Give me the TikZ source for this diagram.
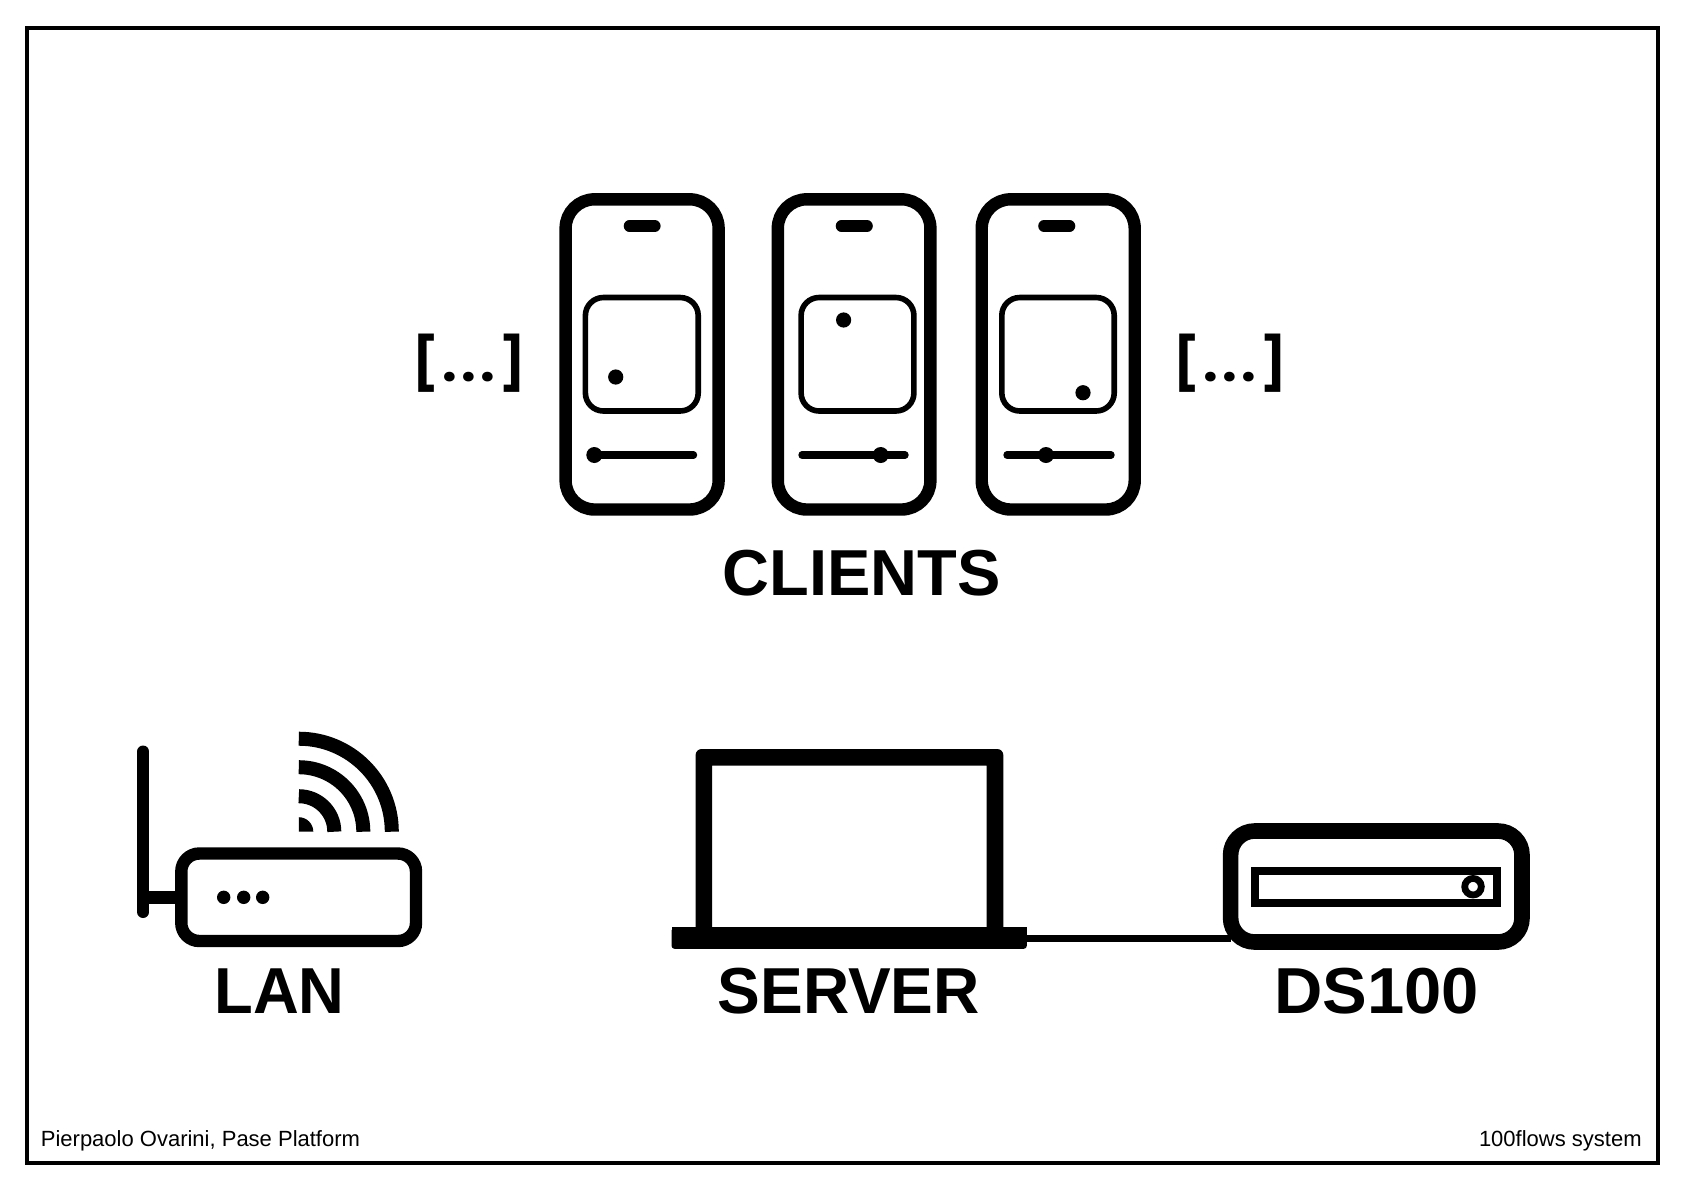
\documentclass[tikz,border=0pt]{standalone}
\usepackage{fontspec}
\setmainfont{Liberation Sans}
\newfontfamily\brkfont[LetterSpace=8]{Poppins}
\tikzset{
  x=0.5pt,y=-0.5pt,
  frame/.style={draw=black,line width=2pt,outer sep=0pt},
  phonebody/.style={draw=black,line width=6.2pt,rounded corners=14.5pt},
  phonescreen/.style={draw=black,line width=2.8pt,rounded corners=9pt},
  notchbar/.style={draw=black,line width=5.8pt,line cap=round},
  sliderbar/.style={draw=black,line width=3.7pt,line cap=round},
  knob/.style={fill=black},
  bigtext/.style={anchor=base,inner sep=0pt,font=\fontsize{32.5pt}{36pt}\selectfont\bfseries},
  smalltext/.style={inner sep=0pt,font=\fontsize{11pt}{13pt}\selectfont},
  brackettext/.style={anchor=base,inner sep=0pt,font=\fontsize{26pt}{30pt}\selectfont\brkfont\bfseries},
  wave/.style={draw=black,line width=7pt,line cap=butt},
  thick5/.style={draw=black,line width=6pt,line cap=round},
  dsslot/.style={draw=black,line width=4pt},
}
\newcommand{\phoneicon}[9]{%
  \draw[phonebody] (#1,199.3) rectangle (#2,509.5);
  \draw[notchbar] (#3,226) -- (#4,226);
  \draw[phonescreen] (#5,297.5) rectangle (#6,411);
  \fill[knob] (#7,#8) circle[radius=3.8pt];
  \fill[knob] (#9,455) circle[radius=4pt];
}
\begin{document}
\begin{tikzpicture}
\useasboundingbox (0,0) rectangle (1684,1190);
\fill[white] (0,0) rectangle (1684,1190);
\node[frame,minimum width=815.25pt,minimum height=567.5pt,inner sep=0pt,anchor=north west] (border) at (27,27.5) {};

% phones
\phoneicon{565.6}{718.6}{629.5}{654.8}{585.4}{698.2}{615.7}{377}{594.3}
\draw[sliderbar] (594.3,455) -- (693.5,455);
\phoneicon{777.8}{930.4}{841.5}{867}{801.1}{913.9}{843.6}{320}{880.7}
\draw[sliderbar] (802,455) -- (905,455);
\phoneicon{981.7}{1134.7}{1044}{1069.5}{1001.8}{1114.2}{1083}{392.7}{1046}
\draw[sliderbar] (1007,455) -- (1111,455);

\node[brackettext] (dotsL) at (469,381) {[...]};
\node[brackettext] (dotsR) at (1230,381) {[...]};
\node[bigtext] (clients) at (861.5,595) {CLIENTS};

% router
\draw[draw=black,line width=6.2pt,rounded corners=9pt] (181.3,853.5) rectangle (416,941);
\draw[thick5] (143.2,751.5) -- (143.2,912);
\draw[draw=black,line width=6.5pt] (143.2,897.3) -- (181.3,897.3);
\foreach \dx in {223.7,243.7,262.7} \fill[knob] (\dx,897.3) circle[radius=3.35pt];
\draw[wave] (298.8,738.7) arc[start angle=90,end angle=0,radius=46.5pt];
\draw[wave] (298.8,767.2) arc[start angle=90,end angle=0,radius=32.25pt];
\draw[wave] (298.8,796.2) arc[start angle=90,end angle=0,radius=17.75pt];
\fill[black] (298.8,831.7) -- (298.8,817.2) arc[start angle=90,end angle=0,radius=7.25pt] -- cycle;
\node[bigtext,xscale=0.975] (lan) at (279.5,1013) {LAN};

% laptop
\fill[black,even odd rule] (695.6,927.5) -- (695.6,755) [rounded corners=3pt] -- (695.6,749) -- (1003.3,749) [sharp corners] -- (1003.3,927.5) -- cycle
  (712.2,765.7) rectangle (986.6,927.5);
\node[fill=black,inner sep=0pt,outer sep=0pt,minimum width=177.65pt,minimum height=10.5pt,anchor=north west,rounded corners=1.5pt] (base) at (671.5,927.8) {};
\fill[black] (671.5,927.3) rectangle (1026.8,936);
% storage box
\node[draw=black,line width=7.8pt,rounded corners=12pt,inner sep=0pt,outer sep=0pt,minimum width=145.7pt,minimum height=55.5pt,anchor=north west] (dsbox) at (1230.6,831) {};
\draw[draw=black,line width=3.7pt] (base.east) -- (base.east -| dsbox.west);
\draw[dsslot] (1255,870.7) rectangle (1497,902.5);
\draw[draw=black,line width=3.4pt] (1473,886.7) circle[radius=4.15pt];

\node[bigtext,xscale=0.985] (server) at (848.7,1013) {SERVER};
\node[bigtext,xscale=1.03] (ds) at (1376.4,1013) {DS100};

\node[smalltext,anchor=base west] (credit) at (40.5,1146.7) {Pierpaolo Ovarini, Pase Platform};
\node[smalltext,anchor=base east] (system) at (1642,1146.7) {100flows system};
\end{tikzpicture}
\end{document}
